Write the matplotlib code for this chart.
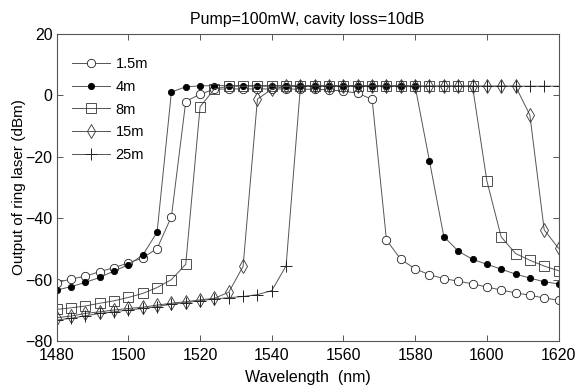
import numpy as np
import matplotlib
matplotlib.use('Agg')
import matplotlib.pyplot as plt

plt.rcParams['font.family'] = ['Liberation Sans', 'DejaVu Sans']

# wavelength grid (nm), one point every 4 nm
wl = np.arange(1480, 1621, 4)

# output power (dBm) for each fibre length
p_1p5 = [-61.0, -59.8, -58.9, -57.4, -56.1, -54.6, -52.9, -49.9, -39.5, -2.0,
         0.4, 2.0, 2.1, 2.1, 2.1, 2.1, 2.1, 2.0, 2.0, 1.8,
         1.4, 0.7, -1.3, -47.1, -53.4, -56.5, -58.4, -59.7, -60.5, -61.4,
         -62.4, -63.4, -64.3, -65.1, -66.0, -66.7]
p_4 = [-63.4, -62.3, -60.9, -59.3, -57.2, -55.2, -52.0, -44.6, 1.1, 2.8,
       3.1, 3.2, 3.2, 3.2, 3.2, 3.2, 3.2, 3.2, 3.2, 3.2,
       3.2, 3.2, 3.2, 3.2, 3.2, 2.9, -21.4, -46.0, -50.7, -53.4,
       -55.0, -56.6, -58.2, -59.5, -60.7, -61.4]
p_8 = [-69.7, -69.2, -68.6, -67.7, -66.9, -65.8, -64.5, -62.6, -60.0, -55.0,
       -3.7, 2.1, 3.0, 3.0, 3.0, 3.0, 3.0, 3.0, 3.0, 3.0,
       3.0, 3.0, 3.0, 3.0, 3.0, 3.0, 3.0, 3.0, 3.0, 3.0,
       -27.8, -46.1, -51.5, -53.7, -55.6, -57.1]
p_15 = [-72.4, -71.9, -71.0, -70.5, -69.9, -69.4, -69.0, -68.3, -67.7, -67.2,
        -66.6, -66.1, -64.1, -55.7, -1.2, 2.0, 3.0, 3.0, 3.0, 3.0,
        3.0, 3.0, 3.0, 3.0, 3.0, 3.0, 3.0, 3.0, 3.0, 3.0,
        3.0, 3.0, 3.0, -6.4, -43.8, -49.8]
p_25 = [-73.2, -72.6, -71.8, -71.0, -70.5, -69.9, -69.4, -68.8, -68.0, -67.5,
        -66.9, -66.3, -65.9, -65.5, -64.9, -63.6, -55.5, 3.0, 3.0, 3.0,
        3.0, 3.0, 3.0, 3.0, 3.0, 3.0, 3.0, 3.0, 3.0, 3.0,
        3.0, 3.0, 3.0, 3.0, 3.0, 3.0]

labels = ['1.5m', '4m', '8m', '15m', '25m']

fig = plt.figure(figsize=(5.87, 3.89), dpi=100)
ax = fig.add_axes([0.0966, 0.1234, 0.8549, 0.7892])

lc = '#555555'
ax.plot(wl, p_1p5, color=lc, lw=0.7, marker='o', ms=6, mfc='white', mec='#222222', mew=0.6, label=labels[0])
ax.plot(wl, p_4, color=lc, lw=0.7, marker='o', ms=4.5, mfc='black', mec='black', mew=0.6, label=labels[1])
ax.plot(wl, p_8, color=lc, lw=0.7, marker='s', ms=6.5, mfc='none', mec='#333333', mew=0.6, label=labels[2])
ax.plot(wl, p_15, color=lc, lw=0.7, marker='d', ms=7, mfc='none', mec='#333333', mew=0.6, label=labels[3])
ax.plot(wl, p_25, color=lc, lw=0.7, marker='+', ms=8, mec='#222222', mew=0.7, label=labels[4])

ax.set_xlim(1480, 1620)
ax.set_ylim(-80, 20)
ax.set_xticks(np.arange(1480, 1621, 20))
ax.set_yticks(np.arange(-80, 21, 20))
ax.tick_params(direction='in', top=True, right=True, length=4, width=0.7,
               colors='#555555', labelcolor='black', labelsize=11.5)
ax.tick_params(axis='x', pad=5)
ax.tick_params(axis='y', pad=3)
for s in ax.spines.values():
    s.set_color('#555555')
    s.set_linewidth(0.8)

ax.set_title('Pump=100mW, cavity loss=10dB', fontsize=11.5, pad=7)
ax.set_xlabel('Wavelength  (nm)', fontsize=11.5, labelpad=5)
ax.set_ylabel('Output of ring laser (dBm)', fontsize=11)
ax.yaxis.set_label_coords(-0.062, 0.5)

ax.legend(loc='upper left', bbox_to_anchor=(0.03, 0.925), frameon=False,
          fontsize=10.5, borderpad=0, borderaxespad=0, labelspacing=0.6,
          handlelength=2.6, handletextpad=0.4)

fig.savefig('out.png', dpi=100)
